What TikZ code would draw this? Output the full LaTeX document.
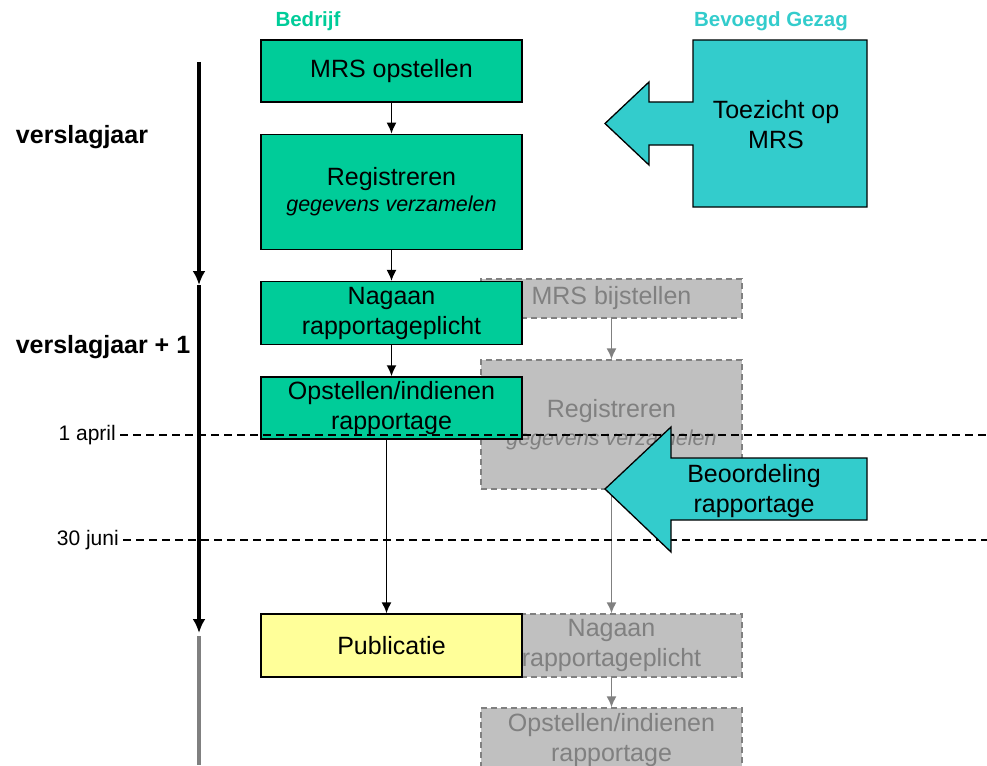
\documentclass[tikz,border=0pt]{standalone}
\usepackage{fontspec}
\setmainfont{Liberation Sans}
\usepackage{tikz}
\usetikzlibrary{positioning,calc,arrows.meta}
\definecolor{bedrijfgroen}{RGB}{0,204,153}
\definecolor{gezagblauw}{RGB}{51,204,204}
\definecolor{publicatiegeel}{RGB}{255,255,153}
\definecolor{grijsvlak}{RGB}{192,192,192}
\definecolor{grijslijn}{RGB}{128,128,128}
\newcommand{\stapbreedte}{261pt}
\newcommand{\stapfont}{\fontsize{25}{30}\selectfont}
\newcommand{\toelichting}[1]{{\itshape\fontsize{21.5}{25}\selectfont #1}}

\tikzset{
  stap/.style={draw=black, line width=1.3pt, fill=bedrijfgroen, minimum width=\stapbreedte,
    align=center, inner sep=0pt, font=\stapfont},
  later/.style={draw=grijslijn, dash pattern=on 6pt off 4pt, line width=1.3pt, fill=grijsvlak,
    text=grijslijn, minimum width=\stapbreedte, align=center, inner sep=0pt, font=\stapfont},
  pijl/.style={-{Latex[length=11pt,width=10pt]}, line width=1.6pt},
  grijspijl/.style={pijl, draw=grijslijn},
  tijd/.style={-{Latex[length=14pt,width=13pt]}, line width=4pt},
  datum/.style={font=\fontsize{21}{25}\selectfont, anchor=east, inner sep=0pt, inner xsep=4pt},
  jaar/.style={font=\bfseries\fontsize{25}{29}\selectfont, inner sep=0pt},
  kop/.style={font=\bfseries\fontsize{20.5}{24}\selectfont, inner sep=0pt},
  gezag/.style={draw=black, line width=1.3pt, fill=gezagblauw},
  grens/.style={dash pattern=on 8pt off 5pt, line width=1.2pt}
}

\begin{document}
\begin{tikzpicture}[x=1pt,y=-1pt]
  \useasboundingbox (0,0) rectangle (987,765);
  \clip (0,0) rectangle (987,765);

  \node[kop, text=bedrijfgroen] (bedrijf) at (308,21) {Bedrijf};
  \node[kop, text=gezagblauw] (bevoegd) at (771,21) {Bevoegd Gezag};

  \node[jaar] (jaar) at (82,137) {verslagjaar};
  \node[jaar] (jaarplus) at (103,347) {verslagjaar + 1};

  \node[later, minimum height=39pt] (bijstellen) at (611.5,298.5) {MRS bijstellen};
  \node[later, minimum height=129pt] (lregistreren) at (611.5,424.5)
    {Registreren\\[-2pt]\toelichting{gegevens verzamelen}};
  \node[later, minimum height=63pt] (lnagaan) at (611.5,645.5) {Nagaan\\rapportageplicht};
  \node[later, minimum height=64pt] (lindienen) at (611.5,740) {Opstellen/indienen\\rapportage};

  \node[stap, minimum height=62pt] (opstellen) at (391.5,71) {MRS opstellen};
  \node[stap, minimum height=115pt, below=31pt of opstellen] (registreren)
    {Registreren\\[-4pt]\toelichting{gegevens verzamelen}};
  \node[stap, minimum height=63pt, below=31pt of registreren] (nagaan) {Nagaan\\rapportageplicht};
  \node[stap, minimum height=62pt, below=31pt of nagaan] (indienen) {Opstellen/indienen\\rapportage};
  \node[stap, fill=publicatiegeel, minimum height=63pt] (publicatie) at (391.5,645.5) {Publicatie};

  \coordinate (tijdstart) at (199,62);
  \coordinate (jaargrens) at (199,285);
  \coordinate (tijdeind) at (199,633);
  \coordinate (restbegin) at (199,636);
  \coordinate (restend) at (199,765);
  \draw[tijd] (tijdstart) -- (jaargrens);
  \draw[tijd] (jaargrens) -- (tijdeind);
  \draw[line width=4pt, grijslijn] (restbegin) -- (restend);

  \draw[pijl] (opstellen) -- (registreren);
  \draw[pijl] (registreren) -- (nagaan);
  \draw[pijl] (nagaan) -- (indienen);
  \draw[pijl] ([xshift=-5pt]indienen.south) -- ([xshift=-5pt]publicatie.north);

  \draw[grijspijl] (bijstellen) -- (lregistreren);
  \draw[grijspijl] (lregistreren) -- (lnagaan);
  \draw[grijspijl] (lnagaan) -- (lindienen);

  \node[datum] (april) at (120,435) {1 april};
  \node[datum] (juni) at (123,540) {30 juni};
  \coordinate (aprilrand) at (987,435);
  \coordinate (junirand) at (987,540);
  \draw[grens] (april.east) -- (aprilrand);
  \draw[grens] (juni.east) -- (junirand);

  \draw[gezag] (693,40) -- (867,40) -- (867,207) -- (693,207) -- (693,145) -- (649,145)
    -- (649,165) -- (605,123.5) -- (649,82) -- (649,102) -- (693,102) -- cycle;
  \node[font=\stapfont, align=center] (toezicht) at (776,125) {Toezicht op\\MRS};

  \draw[gezag] (867,458) -- (867,520) -- (671,520) -- (671,552) -- (605,489)
    -- (671,427) -- (671,458) -- cycle;
  \node[font=\stapfont, align=center] (beoordeling) at (754,491.5) {Beoordeling\\rapportage};
\end{tikzpicture}
\end{document}
